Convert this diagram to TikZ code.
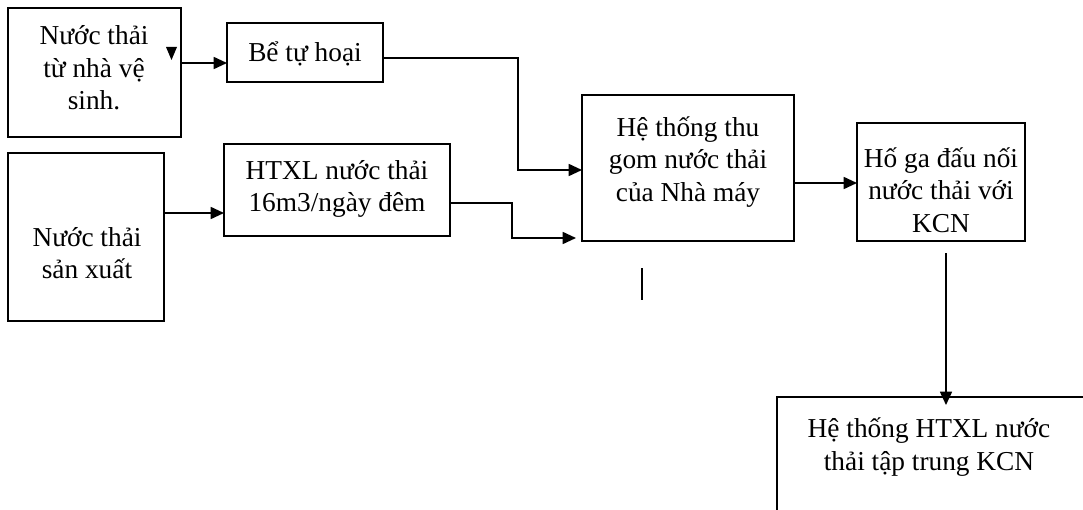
\documentclass[tikz,border=0pt]{standalone}
\usepackage{fontspec}
\setmainfont{Liberation Serif}
\usetikzlibrary{arrows.meta,fit}
\begin{document}
\begin{tikzpicture}[x=0.75pt,y=-0.75pt,
  box/.style={draw, line width=1.25pt, inner sep=0pt, outer sep=0pt},
  lbl/.style={align=center, font=\fontsize{20.5}{24.5}\selectfont, inner sep=0pt},
  wire/.style={line width=1.25pt},
  flow/.style={wire, -{Triangle[length=10pt,width=9pt]}}]
\useasboundingbox (0,0) rectangle (1083,510);
\clip (0,0) rectangle (1083,510);

% boxes
\node[box, fit={(8,8) (181,137)}]     (b1)   {};
\node[box, fit={(227,23) (383,82)}]   (b2)   {};
\node[box, fit={(8,153) (164,321)}]   (sx)   {};
\node[box, fit={(224,144) (450,236)}] (htxl) {};
\node[box, fit={(582,95) (794,241)}]  (ht)   {};
\node[box, fit={(857,123) (1025,241)}] (hg)  {};
\node[box, fit={(777,397) (1110,540)}] (kcn) {};

% labels
\node[lbl] (t1)    at (94,68)   {Nước thải\\từ nhà vệ\\sinh.};
\node[lbl] (t2)    at (305,54)  {Bể tự hoại};
\node[lbl] (tsx)   at (87,253)  {Nước thải\\sản xuất};
\node[lbl] (thtxl) at (337,189) {HTXL nước thải\\16m3/ngày đêm};
\node[lbl] (tht)   at (688,162) {Hệ thống thu\\gom nước thải\\của Nhà máy};
\node[lbl] (thg)   at (941,190) {Hố ga đấu nối\\nước thải với\\KCN};
\node[lbl] (tkcn)  at (929,447) {Hệ thống HTXL nước\\thải tập trung KCN};

% small marker inside the first box
\fill (166,47) -- (177,47) -- (171.5,60) -- cycle;

% connection points
\coordinate (a1) at (181,63);
\coordinate (a2) at (383,58);
\coordinate (k1) at (518,170);
\coordinate (a3) at (450,203);
\coordinate (k2) at (512,238);
\coordinate (e3) at (576,238);
\coordinate (a4) at (164,213);
\coordinate (a5) at (794,183);
\coordinate (a6) at (946,253);
\coordinate (e6) at (946,405);
\coordinate (m1) at (642,268);
\coordinate (m2) at (642,300);

% connectors
\draw[flow] (a1) -- (a1 -| b2.west);
\draw[flow] (a2) -| (k1) -- (k1 -| ht.west);
\draw[flow] (a3) -| (k2) -- (e3);
\draw[flow] (a4) -- (a4 -| htxl.west);
\draw[flow] (a5) -- (a5 -| hg.west);
\draw[flow] (a6) -- (e6);
\draw[wire] (m1) -- (m2);
\end{tikzpicture}
\end{document}
